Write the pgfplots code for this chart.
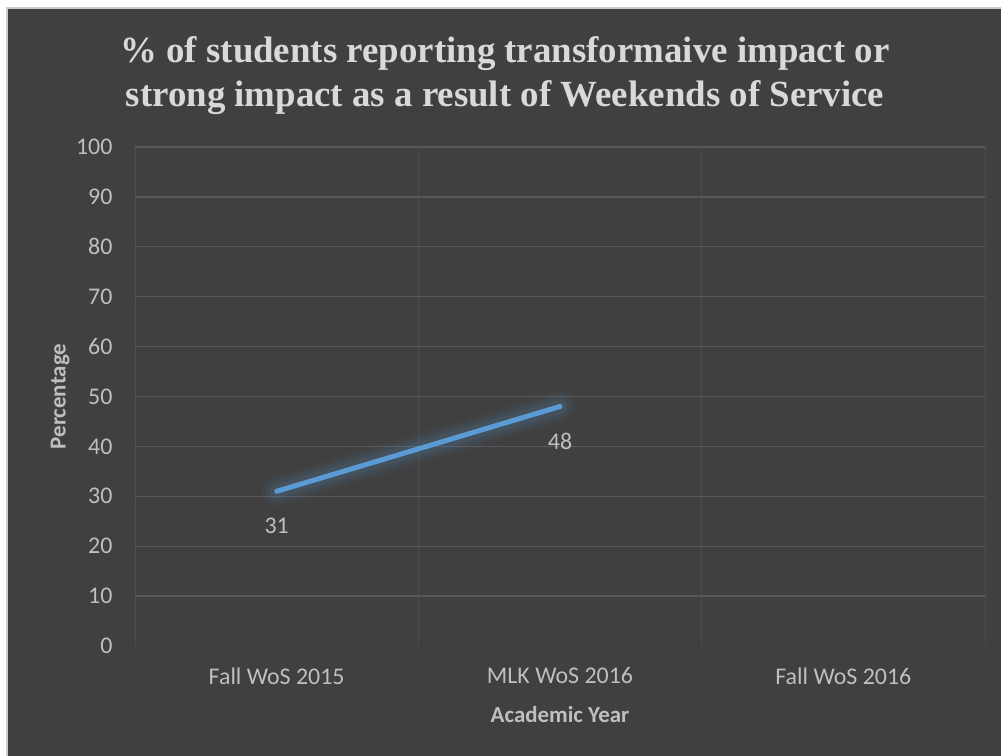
\documentclass[border=0pt]{standalone}
\usepackage{pgfplots}
\pgfplotsset{compat=1.18}
\usepackage{fontspec}
\setmainfont{Liberation Serif}
\newfontfamily\calibri{Carlito}
\definecolor{bg}{HTML}{404040}
\definecolor{txt}{HTML}{BFBFBF}
\definecolor{ttl}{HTML}{D9D9D9}
\definecolor{hgrid}{HTML}{595959}
\definecolor{vgrid}{HTML}{4C4C4C}
\definecolor{lineblue}{HTML}{5B9BD5}
\begin{document}
\begin{tikzpicture}[x=1bp,y=1bp]
\fill[white] (0,0) rectangle (1001,756);
\fill[black!20] (6,0) rectangle (1001,749);
\fill[bg] (8,0) rectangle (1001,747);
\node[align=center, text=ttl, font=\fontsize{37}{44}\selectfont\bfseries] at (505,680)
  {\% of students reporting transformaive impact or\\strong impact as a result of Weekends of Service};
\begin{axis}[
  at={(135bp,110bp)}, anchor=south west,
  scale only axis, width=850bp, height=499bp,
  xmin=-0.5, xmax=2.5, ymin=0, ymax=100,
  axis line style={draw=none},
  xtick={0,1,2},
  xticklabels={Fall WoS 2015, MLK WoS 2016, Fall WoS 2016},
  minor xtick={-0.5,0.5,1.5,2.5},
  xminorgrids=true, xmajorgrids=false,
  minor grid style={vgrid, line width=1bp},
  ytick={10,20,...,100},
  extra y ticks={0}, extra y tick style={grid=none},
  ymajorgrids=true,
  major grid style={hgrid, line width=1.3bp},
  major tick length=0pt, minor tick length=0pt,
  tick style={draw=none},
  /pgf/number format/assume math mode=true,
  ticklabel style={font=\calibri\fontsize{24}{28}\selectfont, text=txt},
  yticklabel style={xshift=-19bp},
  xticklabel style={yshift=-18bp},
  xlabel={\calibri\bfseries\fontsize{23}{26}\selectfont Academic Year},
  ylabel={\calibri\bfseries\fontsize{23}{26}\selectfont Percentage},
  xlabel style={text=txt, at={(axis description cs:0.5,0)}, anchor=center, yshift=-69bp},
  ylabel style={text=txt, at={(axis description cs:-0.0882,0.5)}, anchor=center},
  clip=false,
]
\addplot[lineblue, opacity=0.05, line width=30bp, line cap=round, forget plot] coordinates {(0,31) (1,48)};
\addplot[lineblue, opacity=0.07, line width=22bp, line cap=round, forget plot] coordinates {(0,31) (1,48)};
\addplot[lineblue, opacity=0.10, line width=14bp, line cap=round, forget plot] coordinates {(0,31) (1,48)};
\addplot[lineblue, line width=5bp, line cap=round,
  nodes near coords, point meta=explicit symbolic,
  every node near coord/.append style={font=\calibri\fontsize{24}{28}\selectfont, text=txt, anchor=north, yshift=-21bp}]
  coordinates {(0,31) [31] (1,48) [48]};
\end{axis}
\end{tikzpicture}
\end{document}
